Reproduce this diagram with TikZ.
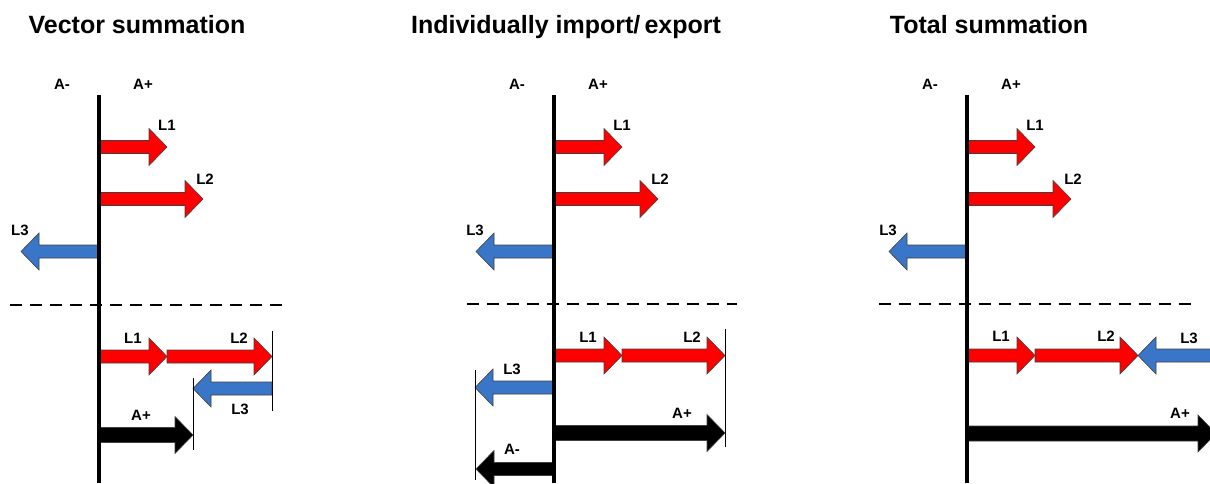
\documentclass[tikz,border=0pt]{standalone}
\usepackage{fontspec}
\setmainfont{Liberation Sans}
\usetikzlibrary{calc}
\definecolor{arrred}{HTML}{FF0000}
\definecolor{arrblue}{HTML}{3A76C8}
% block arrow: from x, to x, y, half shaft width, fill colour
\newcommand{\blockarr}[5]{%
  \pgfmathsetmacro{\hb}{#2-sign(#2-#1)*18}%
  \filldraw[fill=#5,draw=black!75,line width=.6pt] (#1,#3-#4) -- (\hb,#3-#4) -- (\hb,#3-18.5) -- (#2,#3) -- (\hb,#3+18.5) -- (\hb,#3+#4) -- (#1,#3+#4) -- cycle;}

\begin{document}
\begin{tikzpicture}[x=1pt,y=-1pt,
  title/.style={font=\fontsize{25}{29}\selectfont\bfseries,anchor=base,inner sep=0pt},
  lbl/.style={font=\fontsize{15}{17}\selectfont\bfseries,inner sep=0pt}]
\useasboundingbox (0,0) rectangle (1210,483);
\clip (0,0) rectangle (1210,483);
\node[title] (tvec) at (137,33) {Vector summation};
\node[title] (tind) at (566,33) {Individually import/\,export};
\node[title] (ttot) at (989,33) {Total summation};
% upper half, the same in every panel
\foreach \ax/\p in {99/a,554/b,967/c}{
  \node[lbl] (\p Am) at (\ax-37,84) {A-};
  \node[lbl] (\p Ap) at (\ax+44,84) {A+};
  \blockarr{\ax}{\ax+68}{147}{6.5}{arrred}
  \blockarr{\ax}{\ax+104}{199}{6.5}{arrred}
  \blockarr{\ax}{\ax-78}{251.5}{6.5}{arrblue}
  \node[lbl] (\p L1) at (\ax+68,125) {L1};
  \node[lbl] (\p L2) at (\ax+106,179) {L2};
  \node[lbl] (\p L3) at (\ax-79,230) {L3};
}
% vector summation
\draw[line width=1.6pt,dash pattern=on 12pt off 8pt] (10,305) -- (285,305);
\blockarr{99}{167}{356.5}{6.5}{arrred}
\blockarr{167}{272}{356.5}{6.5}{arrred}
\blockarr{272}{193}{388.5}{6.5}{arrblue}
\blockarr{99}{193}{435}{7.5}{black}
\draw[line width=.8pt] (272,331) -- (272,411);
\draw[line width=.8pt] (193,378) -- (193,450);
\node[lbl] (aL1b) at (133,338) {L1};
\node[lbl] (aL2b) at (239,338) {L2};
\node[lbl] (aL3b) at (240,409) {L3};
\node[lbl] (aApb) at (141,415) {A+};
\draw[line width=4pt] (99,95) -- (99,483);
% individually import/export
\draw[line width=1.6pt,dash pattern=on 12pt off 8pt] (467,304) -- (737,304);
\blockarr{554}{622}{355.5}{6.5}{arrred}
\blockarr{622}{725}{355.5}{6.5}{arrred}
\blockarr{554}{475}{387.5}{6.5}{arrblue}
\blockarr{554}{725}{433}{7.5}{black}
\blockarr{554}{476}{469}{6.5}{black}
\draw[line width=.8pt] (725,329) -- (725,447);
\draw[line width=.8pt] (475,370) -- (475,480);
\node[lbl] (bL1b) at (588,337) {L1};
\node[lbl] (bL2b) at (692,337) {L2};
\node[lbl] (bL3b) at (512,369) {L3};
\node[lbl] (bApb) at (682,413) {A+};
\node[lbl] (bAmb) at (512,449) {A-};
\draw[line width=4pt] (554,95) -- (554,483);
% total summation
\draw[line width=1.6pt,dash pattern=on 12pt off 8pt] (879,304) -- (1195,304);
\blockarr{967}{1035}{355.5}{6.5}{arrred}
\blockarr{1035}{1138}{355.5}{6.5}{arrred}
\blockarr{1230}{1138}{355.5}{6.5}{arrblue}
\blockarr{967}{1216}{433.5}{7.5}{black}
\node[lbl] (cL1b) at (1001,336) {L1};
\node[lbl] (cL2b) at (1106,336) {L2};
\node[lbl] (cL3b) at (1189,338) {L3};
\node[lbl] (cApb) at (1180,413) {A+};
\draw[line width=4pt] (967,95) -- (967,483);
\end{tikzpicture}
\end{document}
